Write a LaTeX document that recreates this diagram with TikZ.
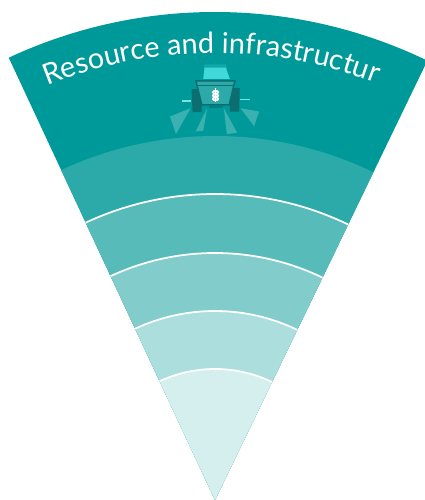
\documentclass[tikz,border=0pt]{standalone}
\usepackage{fontspec}
\setmainfont{Lato}
\usetikzlibrary{decorations.text}
\definecolor{teal0}{HTML}{009999}
\definecolor{teal1}{HTML}{2BAAA9}
\definecolor{teal2}{HTML}{57BBBA}
\definecolor{teal3}{HTML}{82CCCC}
\definecolor{teal4}{HTML}{ADDEDE}
\definecolor{teal5}{HTML}{D5EEEE}
\definecolor{cabin}{HTML}{40D8D8}
\definecolor{track}{HTML}{0B6E70}
\begin{document}
\begin{tikzpicture}
    	\useasboundingbox (-2.15,0) rectangle (2.10,5);
    	\coordinate (apex) at (0,0);
    	% bands, outermost first
    	\foreach \rad/\col in {4.88/teal0,3.64/teal1,3.06/teal2,2.47/teal3,1.89/teal4,1.31/teal5}
    	\fill [\col] (apex)--(115:\rad) arc (115:64.2:\rad)--cycle;
    	\foreach \rad in {3.06,2.47,1.89,1.31}
    	\draw [white,line width=0.5pt] (115:\rad) arc (115:64.2:\rad);
    	% title along the top band
    	\path [decorate,decoration={text along path,text align=center,
    		text={|\fontsize{8.2}{10}\selectfont\color{white}|Resource and infrastructure}}]
    		(111:4.47) arc (111:68:4.47);
    	% tractor
    	\begin{scope}[shift={(-0.65,4.45)},x=0.00333cm,y=-0.00333cm]
    	\fill [cabin,opacity=0.25] (164,28)--(228,28)--(232,42)--(160,42)--cycle;
    	\fill [cabin] (164,38)--(228,38)--(240,72)--(160,72)--cycle;
    	\fill [track] (125,103)--(155,103)--(155,172)--(128,172)--cycle;
    	\fill [track] (240,100)--(270,100)--(268,170)--(240,170)--cycle;
    	\fill [teal1] (138,78)--(255,78)--(238,150)--(156,150)--cycle;
    	\draw [track,line width=0.4pt] (138,78)--(255,78)--(238,150)--(156,150)--cycle;
    	\draw [track,line width=0.4pt] (140,92)--(252,92);
    	\fill [track,opacity=0.6] (178,153)--(218,153)--(218,160)--(178,160)--cycle;
    	\draw [cabin!70!white,line width=0.5pt] (95,138)--(124,138);
    	\draw [cabin!70!white,line width=0.5pt] (270,134)--(300,134);
    	\fill [teal3,opacity=0.45] (60,185)--(122,160)--(78,238)--cycle;
    	\fill [teal3,opacity=0.45] (172,160)--(160,228)--(137,230)--cycle;
    	\fill [teal3,opacity=0.45] (222,160)--(262,234)--(231,238)--cycle;
    	\fill [teal3,opacity=0.45] (272,160)--(328,170)--(313,214)--cycle;
    	% wheat
    	\draw [white,line width=0.4pt] (197,100)--(197,140);
    	\foreach \y in {112,122,132}{
    	\draw [white,line width=0.5pt] (197,\y) ellipse (8 and 4.5);
    	}
    	\end{scope}
    	\end{tikzpicture}
\end{document}
